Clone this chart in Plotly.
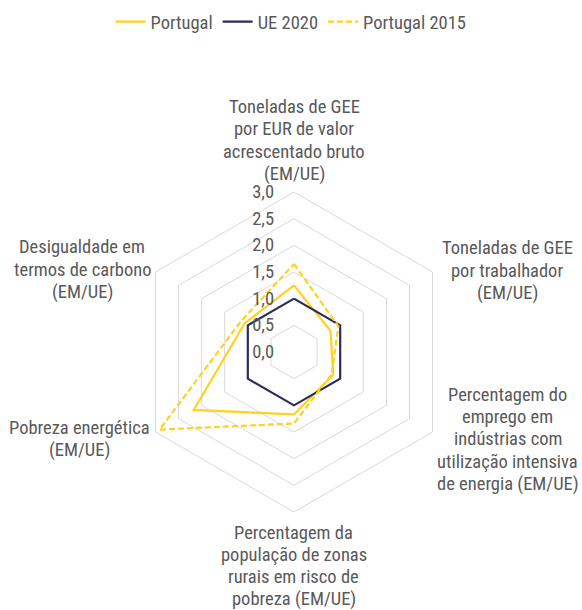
import plotly.graph_objects as go

categories = [
    "Toneladas de GEE<br>por EUR de valor<br>acrescentado bruto<br>(EM/UE)",
    "Toneladas de GEE<br>por trabalhador<br>(EM/UE)",
    "Percentagem do<br>emprego em<br>indústrias com<br>utilização intensiva<br>de energia (EM/UE)",
    "Percentagem da<br>população de zonas<br>rurais em risco de<br>pobreza (EM/UE)",
    "Pobreza energética<br>(EM/UE)",
    "Desigualdade em<br>termos de carbono<br>(EM/UE)",
]
portugal = [1.25, 0.79, 0.85, 1.17, 2.17, 1.07]
ue2020 = [1.0, 1.0, 1.0, 1.0, 1.0, 1.0]
portugal_2015 = [1.65, 0.96, 0.82, 1.34, 2.91, 1.15]
radial_ticks = [0.0, 0.5, 1.0, 1.5, 2.0, 2.5, 3.0]

YELLOW = "#FFD21F"
NAVY = "#2A2B5E"
GREY_TEXT = "#595959"
GRID = "#D9D9D9"
FONT = "Roboto Condensed, Liberation Sans Narrow, Arial Narrow, Liberation Sans, Arial, sans-serif"
W, H = 582, 610
LABEL_SIZE = 18.5
LINE_GAP = 22.3

# pixel positions (centre of each label block) for the category labels
label_px = [(294, 140.5), (507, 270.5), (507.7, 439.3), (293.7, 566), (79, 438.7), (82, 269.5)]


def closed(vals):
    return list(vals) + [vals[0]]


fig = go.Figure()
fig.add_trace(go.Scatterpolar(
    r=closed(portugal), theta=closed(categories), mode="lines", name="Portugal",
    line=dict(color=YELLOW, width=2.2)))
fig.add_trace(go.Scatterpolar(
    r=closed(ue2020), theta=closed(categories), mode="lines", name="UE 2020",
    line=dict(color=NAVY, width=2.2)))
fig.add_trace(go.Scatterpolar(
    r=closed(portugal_2015), theta=closed(categories), mode="lines", name="Portugal 2015",
    line=dict(color=YELLOW, width=2.2, dash="6px,3px")))

annotations = []
for text, (px, py) in zip(categories, label_px):
    lines = text.split("<br>")
    n = len(lines)
    for i, line in enumerate(lines):
        ly = py + (i - (n - 1) / 2) * LINE_GAP
        annotations.append(dict(
            text=line, x=px / W, y=1 - ly / H, xref="paper", yref="paper",
            xanchor="center", yanchor="middle", align="center", showarrow=False,
            borderpad=0,
            font=dict(family=FONT, size=LABEL_SIZE, color=GREY_TEXT)))

fig.update_layout(
    width=W, height=H,
    margin=dict(l=0, r=0, t=0, b=0),
    paper_bgcolor="white", plot_bgcolor="white",
    separators=", ",
    font=dict(family=FONT, size=18, color=GREY_TEXT),
    showlegend=True,
    legend=dict(orientation="h", x=0.5, xanchor="center", y=1 - 22 / H, yanchor="middle",
                itemwidth=30, font=dict(size=18.5, color=GREY_TEXT)),
    annotations=annotations,
    polar=dict(
        domain=dict(x=[(294 - 160) / W, (294 + 160) / W],
                    y=[1 - 512 / H, 1 - 192 / H]),
        bgcolor="white",
        gridshape="linear",
        angularaxis=dict(
            direction="clockwise", rotation=90, showgrid=False,
            showline=True, linecolor=GRID, linewidth=1,
            ticks="", showticklabels=False),
        radialaxis=dict(
            range=[0, 3], tickvals=radial_ticks, tickformat=".1f", angle=90,
            tickangle=90, side="counterclockwise", showline=False,
            ticks="outside", ticklen=13, tickcolor="rgba(0,0,0,0)",
            showgrid=True, gridcolor=GRID, gridwidth=1,
            tickfont=dict(size=18.5, color=GREY_TEXT)),
    ),
)

fig.write_html(
    "out.html",
    config={"displayModeBar": False},
    post_script="document.body.style.margin='0';document.body.style.padding='0';",
)
